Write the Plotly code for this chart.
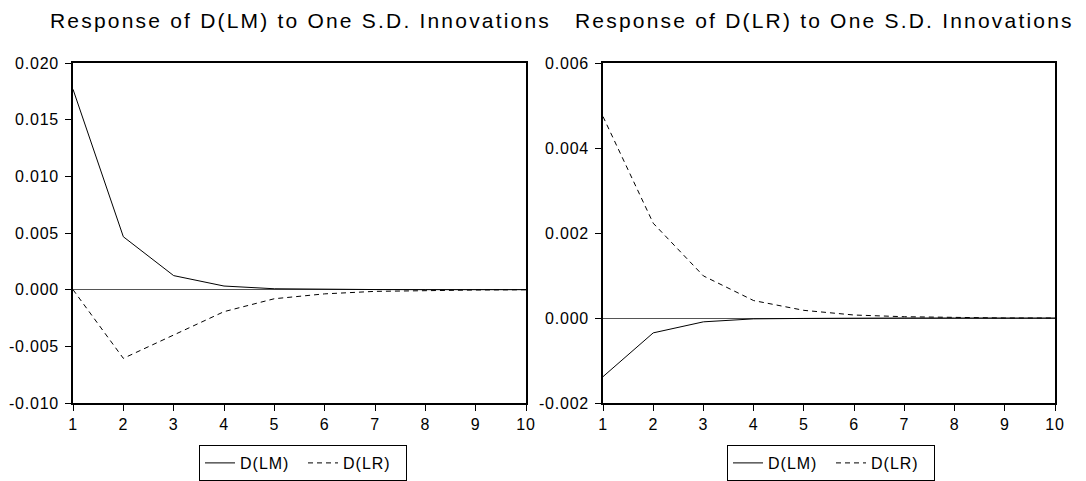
import plotly.graph_objects as go

periods = [1, 2, 3, 4, 5, 6, 7, 8, 9, 10]

# Response of D(LM)
lm_to_lm = [0.01768, 0.00467, 0.00124, 0.00032, 0.00008, 0.00002, 0.00001, 0.0, 0.0, 0.0]
lm_to_lr = [0.0, -0.00606, -0.0040, -0.00194, -0.0008, -0.00037, -0.00015, -0.00006, -0.00003, -0.00001]

# Response of D(LR)
lr_to_lm = [-0.00138, -0.00035, -0.00009, -0.00002, -0.00001, 0.0, 0.0, 0.0, 0.0, 0.0]
lr_to_lr = [0.00474, 0.00223, 0.00099, 0.00041, 0.00018, 0.00007, 0.00003, 0.00001, 0.0, 0.0]

titles = ["Response of D(LM) to One S.D. Innovations", "Response of D(LR) to One S.D. Innovations"]
series_names = ["D(LM)", "D(LR)"]

left_ticks = [-0.010, -0.005, 0.000, 0.005, 0.010, 0.015, 0.020]
left_ticklabels = ["-0.010", "-0.005", "0.000", "0.005", "0.010", "0.015", "0.020"]
right_ticks = [-0.002, 0.000, 0.002, 0.004, 0.006]
right_ticklabels = ["-0.002", "0.000", "0.002", "0.004", "0.006"]

W, H = 1086, 481
FONT = "Liberation Sans, Arial, sans-serif"


def spaced(t, ls):
    return '<span style="letter-spacing:%spx">%s</span>' % (ls, t)


def px_x(p):
    return p / W


def px_y(p):
    return 1 - p / H


fig = go.Figure()

# left panel
fig.add_trace(go.Scatter(x=periods, y=lm_to_lm, mode="lines", name=spaced(series_names[0], 1.0),
                         line=dict(color="black", width=1), xaxis="x", yaxis="y", legend="legend"))
fig.add_trace(go.Scatter(x=periods, y=lm_to_lr, mode="lines", name=spaced(series_names[1], 1.0),
                         line=dict(color="black", width=1, dash="5px,4px"), xaxis="x", yaxis="y", legend="legend"))
# right panel
fig.add_trace(go.Scatter(x=periods, y=lr_to_lm, mode="lines", name=spaced(series_names[0], 1.0),
                         line=dict(color="black", width=1), xaxis="x2", yaxis="y2", legend="legend2"))
fig.add_trace(go.Scatter(x=periods, y=lr_to_lr, mode="lines", name=spaced(series_names[1], 1.0),
                         line=dict(color="black", width=1, dash="5px,4px"), xaxis="x2", yaxis="y2", legend="legend2"))

ydom = [px_y(403), px_y(63)]
tickfont = dict(size=16, color="black", family=FONT)
common_x = dict(range=[1, 10], tickmode="array", tickvals=periods,
                ticktext=[spaced(str(p), 0.8) for p in periods],
                ticks="outside", ticklen=6,
                tickcolor="black", showgrid=False, zeroline=False, showline=True, linecolor="black",
                linewidth=1.5, mirror=True, tickfont=tickfont)
common_y = dict(ticks="outside", ticklen=6, tickcolor="black", showgrid=False,
                zeroline=True, zerolinecolor="#555555", zerolinewidth=1,
                showline=True, linecolor="black", linewidth=1.5, mirror=True,
                tickfont=tickfont, ticklabelstandoff=3)

legend_common = dict(orientation="h", xanchor="left", yanchor="middle",
                     bordercolor="black", borderwidth=1, font=dict(size=16, family=FONT, color="black"),
                     itemwidth=30, tracegroupgap=0, bgcolor="white", entrywidth=58)

fig.update_layout(
    width=W, height=H,
    margin=dict(l=0, r=0, t=0, b=0, autoexpand=False),
    paper_bgcolor="white", plot_bgcolor="white",
    font=dict(family=FONT, color="black"),
    xaxis=dict(domain=[px_x(73), px_x(526)], anchor="y", **common_x),
    yaxis=dict(domain=ydom, anchor="x", range=[-0.010, 0.020], tickvals=left_ticks,
               ticktext=[spaced(t, 0.8) for t in left_ticklabels], **common_y),
    xaxis2=dict(domain=[px_x(603), px_x(1055)], anchor="y2", **common_x),
    yaxis2=dict(domain=ydom, anchor="x2", range=[-0.002, 0.006], tickvals=right_ticks,
                ticktext=[spaced(t, 0.8) for t in right_ticklabels], **common_y),
    legend=dict(x=px_x(199), y=px_y(463), **legend_common),
    legend2=dict(x=px_x(727), y=px_y(463), **legend_common),
    showlegend=True,
)

fig.add_annotation(text=spaced(titles[0], 2.2), x=px_x(300), y=px_y(21), xref="paper", yref="paper",
                   xanchor="center", yanchor="middle",
                   showarrow=False, font=dict(size=21, family=FONT, color="black"))
fig.add_annotation(text=spaced(titles[1], 2.2), x=px_x(824), y=px_y(21), xref="paper", yref="paper",
                   xanchor="center", yanchor="middle",
                   showarrow=False, font=dict(size=21, family=FONT, color="black"))

fig.write_html("out.html")
